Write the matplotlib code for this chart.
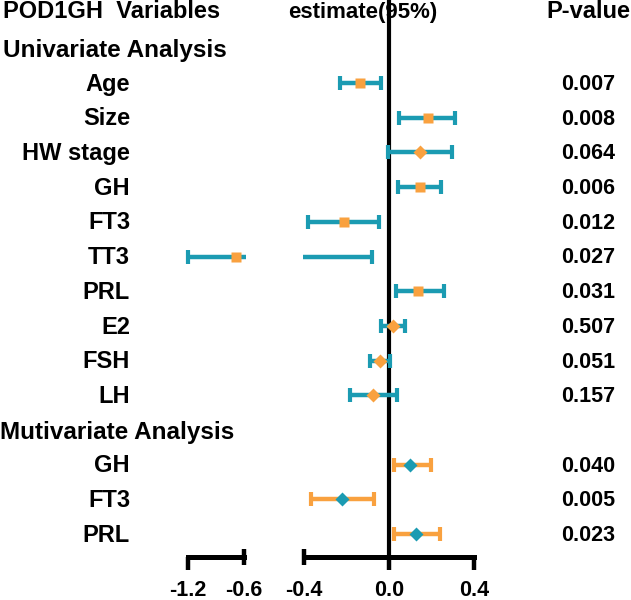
"""
Forest plot of POD1GH estimates with a broken x axis.
"""

import matplotlib.pyplot as plt
from matplotlib.transforms import blended_transform_factory

plt.rcParams["font.family"] = ["Liberation Sans", "DejaVu Sans"]
plt.rcParams["font.weight"] = "bold"

TEAL = "#1b9bb2"
ORANGE = "#f9a13f"

# univariate analysis
uni_vars = ["Age", "Size", "HW stage", "GH", "FT3", "TT3", "PRL", "E2", "FSH", "LH"]
uni_est = [-0.135, 0.182, 0.146, 0.146, -0.213, -0.69, 0.135, 0.017, -0.042, -0.075]
uni_lo = [-0.230, 0.049, -0.006, 0.044, -0.380, -1.2, 0.031, -0.038, -0.088, -0.184]
uni_hi = [-0.039, 0.312, 0.296, 0.246, -0.048, -0.080, 0.257, 0.074, 0.005, 0.036]
uni_p = ["0.007", "0.008", "0.064", "0.006", "0.012", "0.027", "0.031", "0.507", "0.051", "0.157"]
uni_marker = ["s", "s", "D", "s", "s", "s", "s", "D", "D", "D"]

# multivariate analysis
multi_vars = ["GH", "FT3", "PRL"]
multi_est = [0.099, -0.220, 0.127]
multi_lo = [0.025, -0.367, 0.025]
multi_hi = [0.196, -0.069, 0.240]
multi_p = ["0.040", "0.005", "0.023"]

left_ticks = [-1.2, -0.6]
right_ticks = [-0.4, 0.0, 0.4]


def draw_rows(ax, rows, est, lo, hi, markers, bar_color, face_color):
    for y, e, l, h, m in zip(rows, est, lo, hi, markers):
        ms = 7.6 if m == "s" else 6.8
        ax.errorbar(e, y, xerr=[[e - l], [h - e]], fmt="none", ecolor=bar_color,
                    elinewidth=3.2, capsize=5, capthick=3.0, zorder=3)
        ax.plot(e, y, marker=m, ms=ms, color=face_color, mec="none", zorder=4)


def main():
    fig = plt.figure(figsize=(6.31, 6.0), dpi=100)
    axL = fig.add_axes([175 / 631, 43 / 600, 71 / 631, 557 / 600])
    axR = fig.add_axes([303 / 631, 43 / 600, 180 / 631, 557 / 600])
    axL.set_xlim(-1.343, -0.578)
    axR.set_xlim(-0.405, 0.442)

    uni_rows = list(range(1, len(uni_vars) + 1))
    multi_rows = list(range(len(uni_vars) + 2, len(uni_vars) + 2 + len(multi_vars)))

    for ax in (axL, axR):
        ax.set_ylim(14.66, -1.392)
        draw_rows(ax, uni_rows, uni_est, uni_lo, uni_hi, uni_marker, TEAL, ORANGE)
        draw_rows(ax, multi_rows, multi_est, multi_lo, multi_hi, ["D"] * 3, ORANGE, TEAL)
        for side in ["top", "left", "right"]:
            ax.spines[side].set_visible(False)
        ax.spines["bottom"].set_linewidth(3.6)
        ax.set_yticks([])
        ax.tick_params(axis="x", which="major", direction="out", length=9.5, width=3.2,
                       pad=7, labelsize=15.5)
        ax.tick_params(axis="x", which="minor", direction="inout", length=12, width=3.2,
                       pad=10.5, labelsize=15.5)

    axR.axvline(0, color="black", lw=3.0, zorder=1)

    axL.spines["bottom"].set_bounds(left_ticks[0], left_ticks[-1])
    axL.set_xticks([left_ticks[0]])
    axL.set_xticklabels([f"{left_ticks[0]:.1f}"], fontweight="bold")
    axL.set_xticks([left_ticks[1]], minor=True)
    axL.set_xticklabels([f"{left_ticks[1]:.1f}"], minor=True, fontweight="bold")

    axR.spines["bottom"].set_bounds(right_ticks[0], right_ticks[-1])
    axR.set_xticks(right_ticks[1:])
    axR.set_xticklabels([f"{t:.1f}" for t in right_ticks[1:]], fontweight="bold")
    axR.set_xticks([right_ticks[0]], minor=True)
    axR.set_xticklabels([f"{right_ticks[0]:.1f}"], minor=True, fontweight="bold")

    tr = blended_transform_factory(fig.transFigure, axR.transData)
    lab_x = 130 / 631
    p_x = 588 / 631

    fig.text(3 / 631, -0.87, "POD1GH  Variables", transform=tr, ha="left", va="baseline", fontsize=17)
    fig.text(363 / 631, -0.87, "estimate(95%)", transform=tr, ha="center", va="baseline", fontsize=16)
    fig.text(p_x, -0.87, "P-value", transform=tr, ha="center", va="baseline", fontsize=17)

    fig.text(3 / 631, 0.25, "Univariate Analysis", transform=tr, ha="left", va="baseline", fontsize=17.5)
    fig.text(0, len(uni_vars) + 1.26, "Mutivariate Analysis", transform=tr, ha="left",
             va="baseline", fontsize=17.5)

    for y, name, p in zip(uni_rows + multi_rows, uni_vars + multi_vars, uni_p + multi_p):
        fig.text(lab_x, y + 0.22, name, transform=tr, ha="right", va="baseline", fontsize=17)
        fig.text(p_x, y + 0.2, p, transform=tr, ha="center", va="baseline", fontsize=15.5)

    fig.savefig("out.png", dpi=100)
    plt.close(fig)


if __name__ == "__main__":
    main()
